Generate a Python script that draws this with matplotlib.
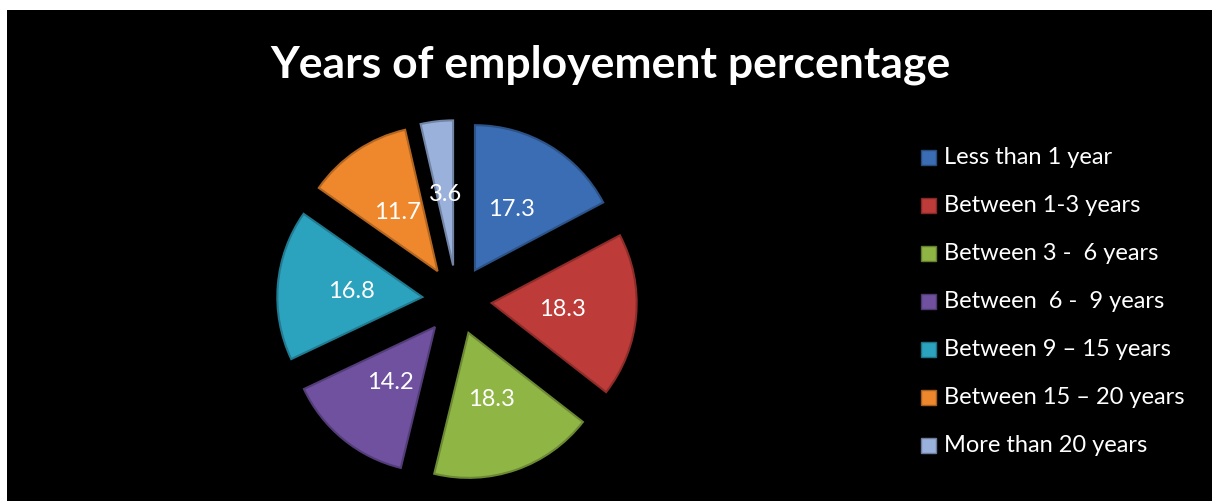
import matplotlib
matplotlib.use("Agg")
import matplotlib.pyplot as plt
from matplotlib.patches import Rectangle
from matplotlib.colors import to_rgb

categories = ["Less than 1 year", "Between 1-3 years", "Between 3 -  6 years",
              "Between  6 -  9 years", "Between 9 \u2013 15 years",
              "Between 15 \u2013 20 years", "More than 20 years"]
values = [17.3, 18.3, 18.3, 14.2, 16.8, 11.7, 3.6]
colors = ["#3A6DB3", "#BD3B38", "#8FB545", "#6F51A0", "#2CA3BE", "#EF882C", "#9AB1DC"]
title = "Years of employement percentage"

W, H = 1212, 501
FONT = "Lato"
fig = plt.figure(figsize=(W / 100, H / 100), dpi=100, facecolor="white")

def fx(px):
    return px / W

def fy(py):
    return 1 - py / H

def darker(c, f=0.7):
    r, g, b = to_rgb(c)
    return (r * f, g * f, b * f)

# black chart area
fig.add_artist(Rectangle((fx(7), 0), 1 - fx(7), fy(10), transform=fig.transFigure,
                         facecolor="black", edgecolor="none", zorder=0))

R = 145.0  # pixels per data unit
cx, cy = 457, 300
A = 200
ax = fig.add_axes([fx(cx - A), fy(cy + A), 2 * A / W, 2 * A / H])
ax.patch.set_alpha(0)

total = sum(values)
wedges, texts, autotexts = ax.pie(
    values, colors=colors, startangle=90, counterclock=False,
    explode=[0.24] * len(values), radius=1.0,
    autopct=lambda p: f"{p * total / 100:.1f}", pctdistance=0.49,
    wedgeprops=dict(linewidth=1.5),
    textprops=dict(color="white", fontsize=17, family=FONT),
    frame=True)
for w, c in zip(wedges, colors):
    w.set_edgecolor(darker(c, 0.75))
ax.set_xlim(-A / R, A / R)
ax.set_ylim(-A / R, A / R)
ax.axis("off")

fig.text(fx(610), fy(77), title, ha="center", va="baseline", color="white",
         fontsize=32, fontweight="bold", family=FONT)

row0, step = 157, 48
for i, (lab, col) in enumerate(zip(categories, colors)):
    yc = row0 + i * step
    fig.add_artist(Rectangle((fx(921), fy(yc + 7.5)), 15 / W, 15 / H,
                             transform=fig.transFigure, facecolor=col,
                             edgecolor=darker(col, 0.7), linewidth=1, zorder=3))
    fig.text(fx(944), fy(yc + 7), lab, ha="left", va="baseline", color="white",
             fontsize=17, family=FONT)

fig.savefig("out.png", dpi=100, facecolor="white")
